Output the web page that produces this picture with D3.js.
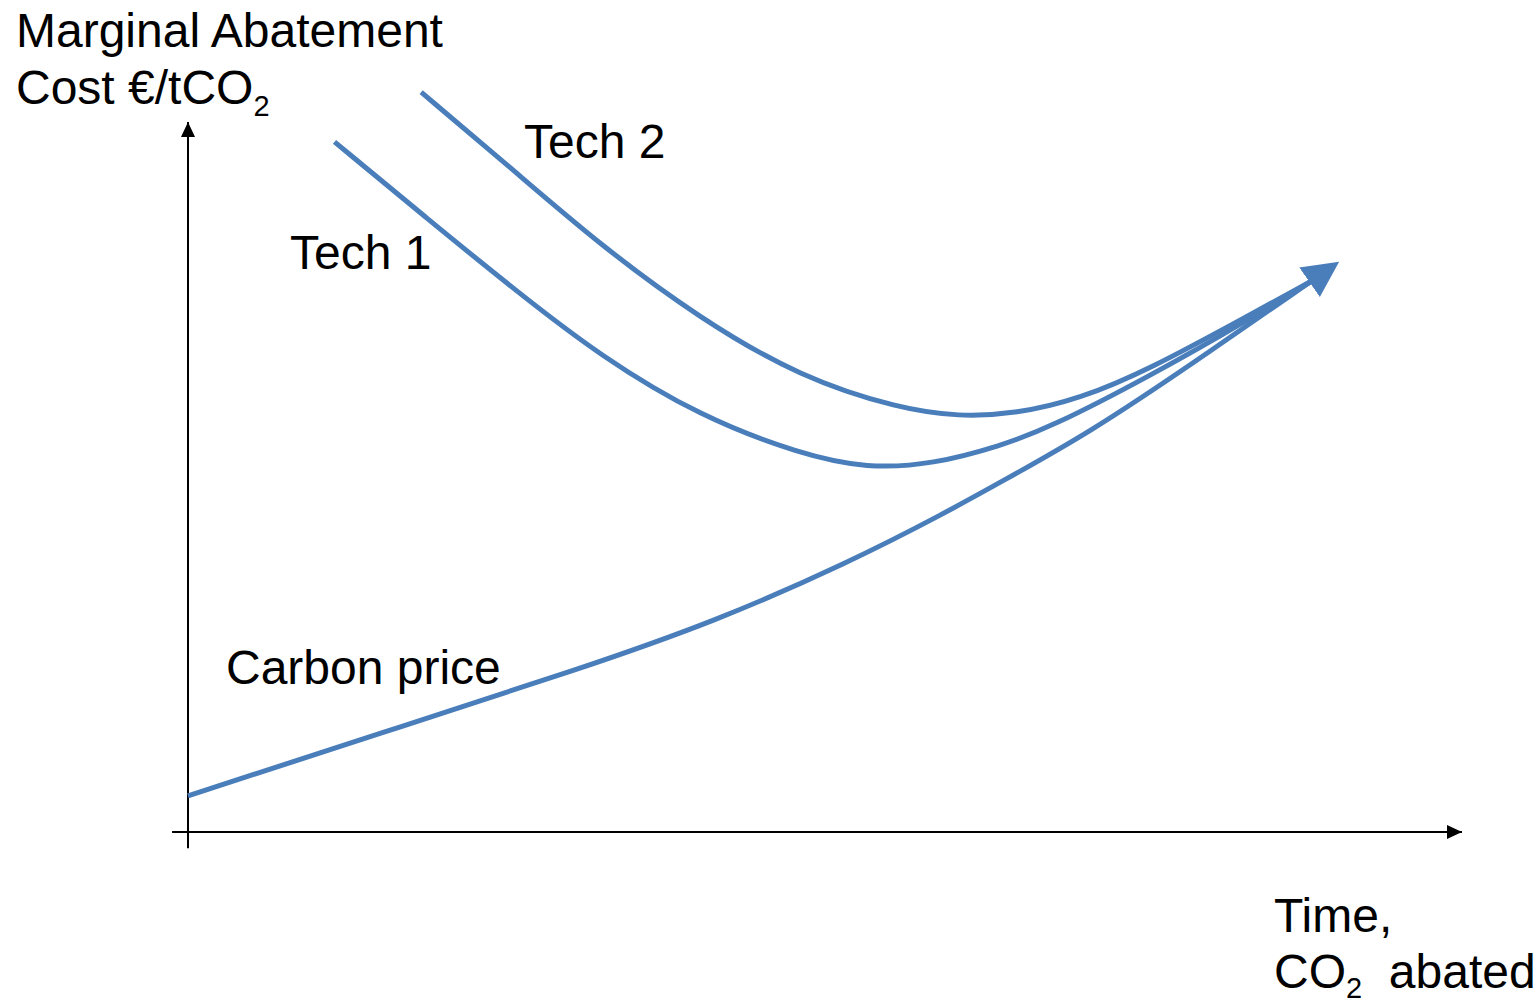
<!DOCTYPE html>
<html>
<head>
<meta charset="utf-8">
<script src="https://cdn.jsdelivr.net/npm/d3@7"></script>
<style>
  html, body { margin: 0; padding: 0; background: #ffffff; }
  svg { display: block; }
  text { font-family: "Liberation Sans", Arial, sans-serif; fill: #000; }
</style>
</head>
<body>
<svg id="chart" width="1537" height="1005"></svg>
<script>
// Curve series: time / CO2 abated (t) against marginal abatement cost (cost), arbitrary units 0–100
const carbonPrice = [
  { t: 0.0,  cost: 5.1 },
  { t: 15.1, cost: 13.9 },
  { t: 30.8, cost: 23.0 },
  { t: 41.3, cost: 29.6 },
  { t: 51.8, cost: 37.9 },
  { t: 59.6, cost: 45.1 },
  { t: 63.8, cost: 49.3 },
  { t: 70.8, cost: 56.3 },
  { t: 78.7, cost: 65.8 },
  { t: 88.1, cost: 77.5 }
];
const tech1 = [
  { t: 11.5, cost: 97.2 },
  { t: 18.7, cost: 86.5 },
  { t: 25.9, cost: 76.0 },
  { t: 32.4, cost: 67.0 },
  { t: 40.2, cost: 58.5 },
  { t: 48.1, cost: 53.2 },
  { t: 53.3, cost: 51.2 },
  { t: 58.5, cost: 51.8 },
  { t: 63.8, cost: 54.4 },
  { t: 67.7, cost: 57.0 },
  { t: 75.5, cost: 64.2 },
  { t: 83.4, cost: 72.3 },
  { t: 88.1, cost: 77.5 }
];
const tech2 = [
  { t: 18.3, cost: 104.2 },
  { t: 25.3, cost: 93.6 },
  { t: 32.4, cost: 82.6 },
  { t: 40.2, cost: 72.3 },
  { t: 48.1, cost: 64.0 },
  { t: 55.9, cost: 59.6 },
  { t: 60.5, cost: 58.5 },
  { t: 65.0, cost: 58.9 },
  { t: 70.0, cost: 61.0 },
  { t: 75.5, cost: 65.2 },
  { t: 83.4, cost: 72.9 },
  { t: 88.1, cost: 77.5 }
];
const seriesLabels = ["Carbon price", "Tech 1", "Tech 2"];

const W = 1537, H = 1005;
const blue = "#4a7ebb";

const svg = d3.select("#chart");
svg.append("rect").attr("width", W).attr("height", H).attr("fill", "#fff");

const x = d3.scaleLinear().domain([0, 100]).range([188, 1462]);
const y = d3.scaleLinear().domain([0, 100]).range([832, 122]);

const defs = svg.append("defs");
defs.append("marker")
  .attr("id", "axisArrow")
  .attr("markerUnits", "userSpaceOnUse")
  .attr("viewBox", "0 -8 16 16")
  .attr("markerWidth", 16).attr("markerHeight", 16)
  .attr("refX", 15).attr("refY", 0)
  .attr("orient", "auto")
  .append("path").attr("d", "M0,-7L15,0L0,7Z").attr("fill", "#000");

defs.append("marker")
  .attr("id", "curveArrow")
  .attr("markerUnits", "userSpaceOnUse")
  .attr("viewBox", "0 -19 38 38")
  .attr("markerWidth", 38).attr("markerHeight", 38)
  .attr("refX", 1).attr("refY", 0)
  .attr("orient", "auto")
  .append("path").attr("d", "M0,-18L36,0L0,18Z").attr("fill", blue);

// Axes with arrow heads
svg.append("line")
  .attr("x1", x(-1.25)).attr("y1", y(0))
  .attr("x2", x(100)).attr("y2", y(0))
  .attr("stroke", "#000").attr("stroke-width", 2)
  .attr("marker-end", "url(#axisArrow)");
svg.append("line")
  .attr("x1", x(0)).attr("y1", y(-2.3))
  .attr("x2", x(0)).attr("y2", y(100))
  .attr("stroke", "#000").attr("stroke-width", 2)
  .attr("marker-end", "url(#axisArrow)");

const line = d3.line()
  .x(d => x(d.t))
  .y(d => y(d.cost))
  .curve(d3.curveBasis);

const curves = [
  { key: "tech2", data: tech2, arrow: false },
  { key: "tech1", data: tech1, arrow: false },
  { key: "carbon", data: carbonPrice, arrow: true }
];

svg.append("g").selectAll("path")
  .data(curves)
  .join("path")
  .attr("d", d => line(d.data))
  .attr("fill", "none")
  .attr("stroke", blue)
  .attr("stroke-width", 5)
  .attr("marker-end", d => d.arrow ? "url(#curveArrow)" : null);

// Curve labels
const fs = 48;
svg.append("text").attr("x", 226).attr("y", 684).attr("font-size", fs).text(seriesLabels[0]);
svg.append("text").attr("x", 290).attr("y", 269).attr("font-size", fs).text(seriesLabels[1]);
svg.append("text").attr("x", 524).attr("y", 158).attr("font-size", fs).text(seriesLabels[2]);

// Axis titles
svg.append("text").attr("x", 16).attr("y", 47).attr("font-size", fs).text("Marginal Abatement");
const yt = svg.append("text").attr("x", 16).attr("y", 104).attr("font-size", fs);
yt.append("tspan").text("Cost €/tCO");
yt.append("tspan").attr("font-size", 29).attr("dy", 12).text("2");

svg.append("text").attr("x", 1274).attr("y", 932).attr("font-size", fs).text("Time,");
const xt = svg.append("text").attr("x", 1274).attr("y", 988).attr("font-size", fs);
xt.append("tspan").text("CO");
xt.append("tspan").attr("font-size", 29).attr("dy", 10).text("2");
xt.append("tspan").attr("dy", -10).text("\u00a0\u00a0abated");
</script>
</body>
</html>
